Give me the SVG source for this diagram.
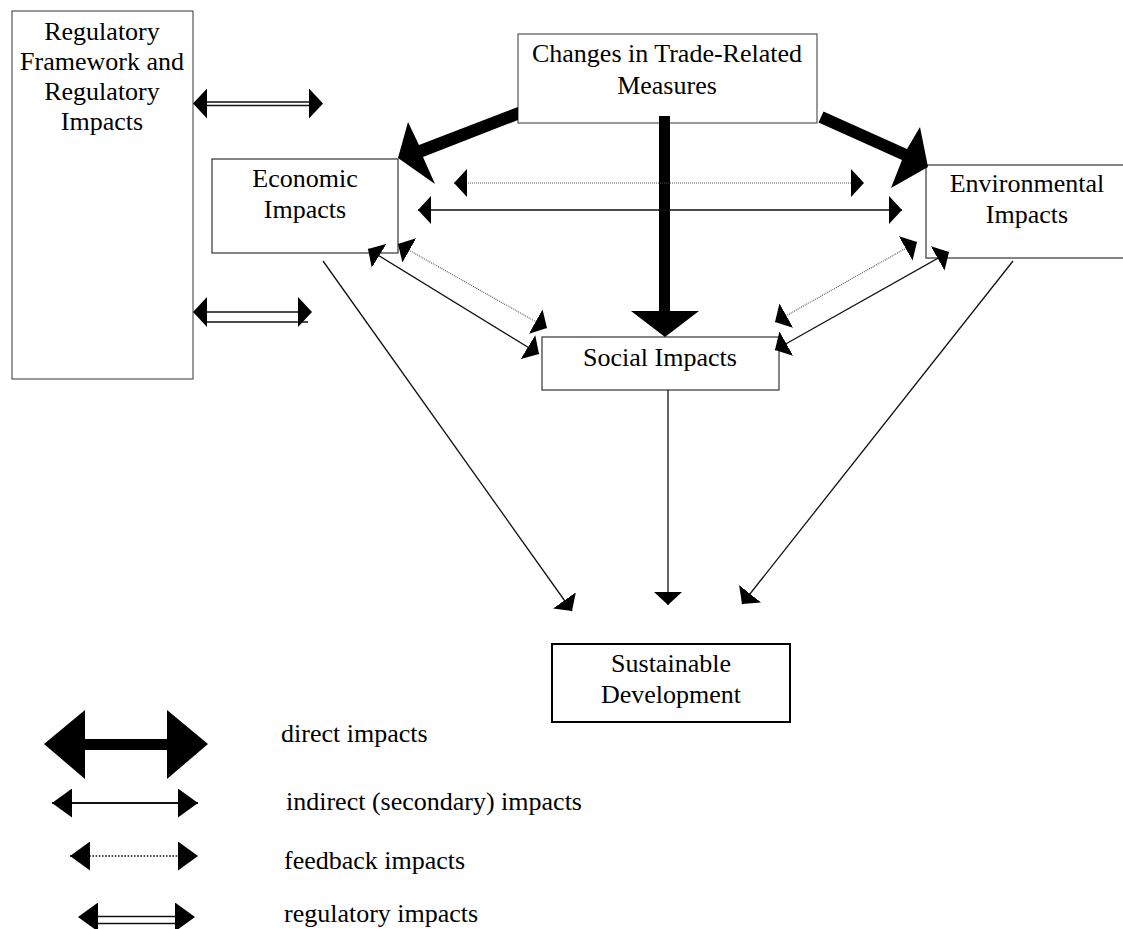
<svg xmlns="http://www.w3.org/2000/svg" width="1123" height="929" viewBox="0 0 1123 929">
<style>
.box{fill:#fff;stroke:#333;stroke-width:1.2}
.boxg{fill:#fff;stroke:#555;stroke-width:1.2}
.boxb{fill:#fff;stroke:#000;stroke-width:2}
.t{font-family:"Liberation Serif","Times New Roman",serif;font-size:26px;fill:#000}
.c{text-anchor:middle}
.solid{stroke:#111;stroke-width:1.3;fill:none}
.dot{stroke:#555;stroke-width:1.1;stroke-dasharray:1 1;fill:none}
.ldot{stroke:#111;stroke-width:1.6;stroke-dasharray:1.6 1.6;fill:none}
.reg{stroke:#111;stroke-width:1.3;fill:none}
.thick{fill:#000;stroke:none}
.ax{stroke:none;fill:none}
</style>
<defs>
<marker id="ah" viewBox="0 0 13 28" refX="13" refY="14" markerWidth="13" markerHeight="28" markerUnits="userSpaceOnUse" orient="auto-start-reverse"><path d="M0,0 L13,14 L0,28 z" fill="#000"/></marker>
<marker id="ar" viewBox="0 0 14 30" refX="14" refY="15" markerWidth="14" markerHeight="30" markerUnits="userSpaceOnUse" orient="auto-start-reverse"><path d="M0,0 L14,15 L0,30 z" fill="#000"/></marker>
<marker id="al" viewBox="0 0 20 29" refX="20" refY="14.5" markerWidth="20" markerHeight="29" markerUnits="userSpaceOnUse" orient="auto-start-reverse"><path d="M0,0 L20,14.5 L0,29 z" fill="#000"/></marker>
</defs>

<g id="regulatory">
<rect class="boxg" x="12" y="11" width="181" height="368"/>
<text class="t c" x="102" y="40">Regulatory</text>
<text class="t c" x="102" y="70">Framework and</text>
<text class="t c" x="102" y="100">Regulatory</text>
<text class="t c" x="102" y="130">Impacts</text>
</g>
<g id="trade">
<rect class="boxg" x="518" y="34" width="299" height="89"/>
<text class="t c" x="667" y="62">Changes in Trade-Related</text>
<text class="t c" x="667" y="94">Measures</text>
</g>
<g id="economic">
<rect class="box" x="212" y="159" width="186" height="94"/>
<text class="t c" x="305" y="187">Economic</text>
<text class="t c" x="305" y="218">Impacts</text>
</g>
<g id="environmental">
<rect class="box" x="926" y="165" width="205" height="93"/>
<text class="t c" x="1027" y="192">Environmental</text>
<text class="t c" x="1027" y="223">Impacts</text>
</g>
<g id="social">
<rect class="box" x="542" y="337" width="237" height="53"/>
<text class="t c" x="660" y="366">Social Impacts</text>
</g>
<g id="sustainable">
<rect class="boxb" x="552" y="644" width="238" height="78"/>
<text class="t c" x="671" y="672">Sustainable</text>
<text class="t c" x="671" y="703">Development</text>
</g>

<g id="connectors">
<!-- direct impacts -->
<polygon class="thick" points="518,107 518,120 423,157 435,184 398,158 408,122 419,145"/>
<polygon class="thick" points="823.5,111.5 818.5,122.5 902,160 891,188 928,167 920,127 907,149"/>
<polygon class="thick" points="659,116 670,116 670,311 699,311 665,337 631,311 659,311"/>
<!-- feedback / indirect between economic and environmental -->
<line class="dot" x1="454" y1="183" x2="864" y2="183" marker-start="url(#ah)" marker-end="url(#ah)"/>
<line class="solid" x1="418" y1="210" x2="902" y2="210" marker-start="url(#ah)" marker-end="url(#ah)"/>
<!-- economic - social -->
<line class="dot" x1="398" y1="244" x2="547" y2="328" marker-start="url(#ah)" marker-end="url(#ah)"/>
<line class="solid" x1="368" y1="249" x2="539" y2="354" marker-start="url(#ah)" marker-end="url(#ah)"/>
<!-- environmental - social -->
<line class="dot" x1="917" y1="242" x2="775" y2="322" marker-start="url(#ah)" marker-end="url(#ah)"/>
<line class="solid" x1="949" y1="252" x2="775" y2="350" marker-start="url(#ah)" marker-end="url(#ah)"/>
<!-- to sustainable development -->
<line class="solid" x1="323" y1="261" x2="572" y2="611" marker-end="url(#ah)"/>
<line class="solid" x1="668" y1="390" x2="668" y2="605" marker-end="url(#ah)"/>
<line class="solid" x1="1013" y1="261" x2="742" y2="604" marker-end="url(#ah)"/>
<!-- regulatory impacts -->
<line class="reg" x1="205" y1="102" x2="312" y2="102"/>
<line class="reg" x1="205" y1="105.5" x2="311" y2="105.5"/>
<path class="ax" d="M193,103.5 H323" marker-start="url(#ar)" marker-end="url(#ar)"/>
<line class="reg" x1="205" y1="312" x2="306" y2="312"/>
<line class="reg" x1="205" y1="322" x2="308" y2="322"/>
<path class="ax" d="M193,312 H312" marker-start="url(#ar)" marker-end="url(#ar)"/>
</g>

<g id="legend">
<polygon class="thick" points="44,744 85,710 85,739 167,739 167,710 208,744 167,779 167,750 85,750 85,779"/>
<text class="t" x="281" y="742">direct impacts</text>
<line class="solid" x1="52" y1="803" x2="198" y2="803" style="stroke-width:2" marker-start="url(#al)" marker-end="url(#al)"/>
<text class="t" x="286" y="810">indirect (secondary) impacts</text>
<line class="ldot" x1="70" y1="856" x2="198" y2="856" marker-start="url(#al)" marker-end="url(#al)"/>
<text class="t" x="284" y="869">feedback impacts</text>
<line class="reg" x1="96" y1="916.5" x2="177" y2="916.5"/>
<line class="reg" x1="96" y1="923.5" x2="177" y2="923.5"/>
<path class="ax" d="M78,917 H195" marker-start="url(#al)" marker-end="url(#al)"/>
<text class="t" x="284" y="922">regulatory impacts</text>
</g>
</svg>
